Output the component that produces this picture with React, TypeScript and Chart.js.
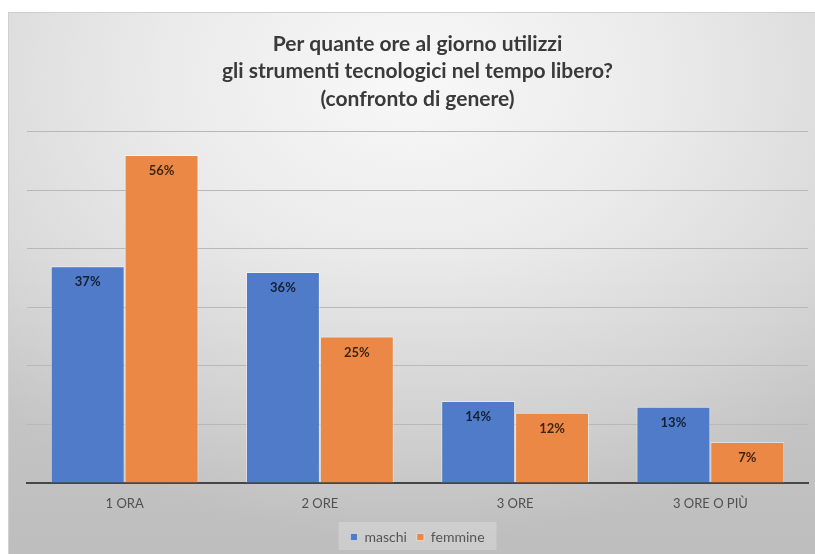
import React, { useEffect, useRef } from "react";
import { Chart, registerables } from "chart.js";

Chart.register(...registerables);

const titleLines = [
  "Per quante ore al giorno utilizzi",
  "gli strumenti tecnologici nel tempo libero?",
  "(confronto di genere)",
];
const categories = ["1 ORA", "2 ORE", "3 ORE", "3 ORE O PIÙ"];
const maschi = [37, 36, 14, 13];
const femmine = [56, 25, 12, 7];
const seriesNames = ["maschi", "femmine"];
const yMax = 60;
const yStep = 10;

const FONT = "Lato, 'Open Sans', sans-serif";

const labelPlugin = {
  id: "barLabels",
  afterDatasetsDraw(chart: any) {
    const ctx = chart.ctx;
    ctx.save();
    ctx.font = `bold 13px ${FONT}`;
    ctx.textAlign = "center";
    ctx.textBaseline = "middle";
    ctx.fillStyle = "rgba(0,0,0,0.75)";
    chart.data.datasets.forEach((ds: any, i: number) => {
      const meta = chart.getDatasetMeta(i);
      meta.data.forEach((bar: any, j: number) => {
        ctx.fillText(ds.data[j] + "%", bar.x, bar.y + 16);
      });
    });
    ctx.restore();
  },
};

const legendBoxPlugin = {
  id: "legendBox",
  beforeDraw(chart: any) {
    const lg = chart.legend;
    if (!lg || !lg.legendHitBoxes || !lg.legendHitBoxes.length) return;
    const boxes = lg.legendHitBoxes;
    const l = Math.min(...boxes.map((b: any) => b.left));
    const r = Math.max(...boxes.map((b: any) => b.left + b.width));
    const t = Math.min(...boxes.map((b: any) => b.top));
    const bt = Math.max(...boxes.map((b: any) => b.top + b.height));
    const ctx = chart.ctx;
    ctx.save();
    ctx.fillStyle = "rgba(255,255,255,0.22)";
    ctx.fillRect(l - 12, t - 8, r - l + 24, bt - t + 14);
    ctx.restore();
  },
};

export default function App() {
  const ref = useRef<HTMLCanvasElement>(null);
  useEffect(() => {
    if (!ref.current) return;
    const chart = new Chart(ref.current, {
      type: "bar",
      data: {
        labels: categories,
        datasets: [
          {
            label: seriesNames[0],
            data: maschi,
            backgroundColor: "#4f7bc9",
            borderColor: "rgba(255,255,255,0.45)",
            borderWidth: 1,
            barPercentage: 1,
            categoryPercentage: 0.757,
          },
          {
            label: seriesNames[1],
            data: femmine,
            backgroundColor: "#ec8846",
            borderColor: "rgba(255,255,255,0.45)",
            borderWidth: 1,
            barPercentage: 1,
            categoryPercentage: 0.757,
          },
        ],
      },
      options: {
        animation: false,
        responsive: false,
        maintainAspectRatio: false,
        layout: { padding: { left: 18, right: 7, top: 0, bottom: 0 } },
        plugins: {
          title: {
            display: true,
            text: titleLines,
            color: "#3a3a3a",
            font: { family: FONT, size: 21, weight: "bold", lineHeight: 1.31 },
            padding: { top: 17, bottom: 19 },
          },
          legend: {
            display: true,
            position: "bottom",
            labels: {
              color: "#555555",
              font: { family: FONT, size: 14 },
              boxWidth: 7,
              boxHeight: 7,
              padding: 10,
            },
          },
          tooltip: { enabled: false },
        },
        scales: {
          x: {
            grid: { display: false, drawTicks: false },
            border: { display: true, color: "#464646", width: 2 },
            ticks: {
              color: "#505050",
              font: { family: FONT, size: 13 },
              padding: 13,
            },
            afterFit: (s: any) => {
              s.height = 37;
            },
          },
          y: {
            min: 0,
            max: yMax,
            ticks: { display: false, stepSize: yStep },
            grid: { color: "#b8b8b8", lineWidth: 1, drawTicks: false },
            border: { display: false },
          },
        },
      },
      plugins: [legendBoxPlugin, labelPlugin],
    });
    return () => chart.destroy();
  }, []);

  return (
    <div
      style={{
        position: "fixed",
        left: 8,
        top: 12,
        width: 807,
        height: 542,
        background:
          "linear-gradient(to bottom, rgba(0,0,0,0) 40%, rgba(0,0,0,0.07) 100%), radial-gradient(ellipse 75% 85% at 50% 12%, #f8f8f8 0%, #ebebeb 40%, #d8d8d8 80%, #cccccc 100%)",
        borderTop: "1px solid #cfcfcf",
        borderLeft: "1px solid #d0d0d0",
        boxSizing: "border-box",
      }}
    >
      <canvas ref={ref} width={806} height={541} style={{ display: "block" }} />
    </div>
  );
}
